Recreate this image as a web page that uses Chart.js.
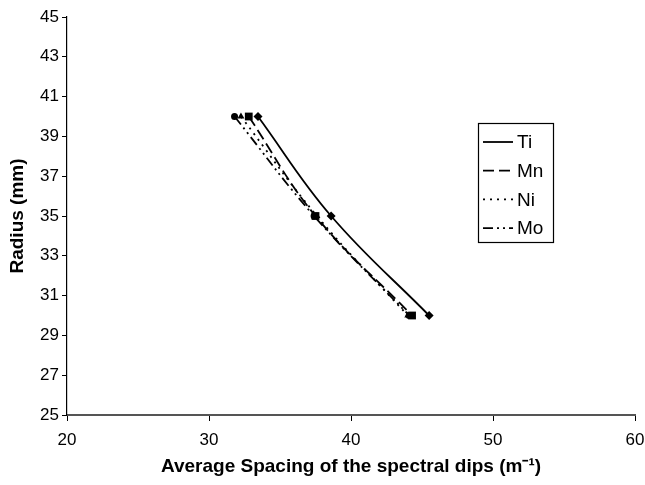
<!DOCTYPE html>
<html><head><meta charset="utf-8">
<script src="https://cdn.jsdelivr.net/npm/chart.js@4.4.0/dist/chart.umd.min.js"></script>
<style>html,body{margin:0;padding:0;background:#fff;}canvas{display:block;}</style>
</head><body>
<canvas id="c" width="645" height="485"></canvas>
<script>
const radius = [40, 35, 30];
const tiSpacing = [33.45, 38.6, 45.5];
const mnSpacing = [32.8, 37.5, 44.3];
const niSpacing = [32.25, 37.6, 44.0];
const moSpacing = [31.8, 37.4, 44.1];
const seriesNames = ['Ti', 'Mn', 'Ni', 'Mo'];
const xTitle = 'Average Spacing of the spectral dips (m\u207B\u00B9)';
const yTitle = 'Radius (mm)';
const FONT = '"Liberation Sans", Arial, sans-serif';

function pts(xs){ return xs.map((x,i)=>({x:x, y:radius[i]})); }
const styles = [
  {dash:[], marker:'rectRot', r:4.5},
  {dash:[11,5], marker:'rect', r:5.5},
  {dash:[2,5], marker:'triangle', r:4},
  {dash:[10,4,2,4,2,4], marker:'circle', r:3.5}
];
const allX = [tiSpacing, mnSpacing, niSpacing, moSpacing];
const datasets = allX.map((xs,i)=>({
  label: seriesNames[i], data: pts(xs),
  borderColor:'#000', backgroundColor:'#000', borderWidth:1.8,
  borderDash: styles[i].dash, pointStyle: styles[i].marker,
  pointRadius: styles[i].r, pointBorderWidth:0, tension:0.4, showLine:true
}));

const legendPlugin = {
  id:'boxLegend',
  afterDraw(chart){
    const ctx = chart.ctx;
    const x0=478, y0=123, w=75, h=119;
    ctx.save();
    ctx.strokeStyle='#000'; ctx.lineWidth=1.2;
    ctx.strokeRect(x0+0.5,y0+0.5,w,h);
    ctx.font='19px ' + FONT;
    ctx.textBaseline='middle'; ctx.fillStyle='#000';
    chart.data.datasets.forEach((ds,i)=>{
      const yy = y0+19+i*28.7;
      ctx.beginPath(); ctx.setLineDash(ds.borderDash); ctx.lineWidth=1.8;
      ctx.moveTo(x0+5,yy); ctx.lineTo(x0+35,yy); ctx.stroke();
      ctx.setLineDash([]);
      ctx.fillText(ds.label, x0+39, yy+1);
    });
    ctx.restore();
  }
};

new Chart(document.getElementById('c'), {
  type:'scatter',
  data:{datasets},
  options:{
    responsive:false, animation:false,
    layout:{padding:{top:17,right:10,bottom:0,left:0}},
    plugins:{legend:{display:false}, tooltip:{enabled:false}},
    scales:{
      x:{type:'linear', min:20, max:60,
        ticks:{stepSize:10, color:'#000', font:{family:FONT, size:17}, padding:9},
        grid:{drawOnChartArea:false, drawTicks:true, tickLength:6, color:'#000'},
        border:{color:'#555', width:2},
        title:{display:true, text:xTitle, color:'#000', font:{family:FONT, size:19, weight:'bold'}, padding:{top:2, bottom:7}},
        afterFit(s){ s.height = 70; s.paddingLeft = 0; s.paddingRight = 0; }
      },
      y:{type:'linear', min:25, max:45,
        ticks:{stepSize:2, color:'#000', font:{family:FONT, size:17}, padding:3},
        grid:{drawOnChartArea:false, drawTicks:true, tickLength:5, color:'#000'},
        border:{color:'#000', width:1.2},
        title:{display:true, text:yTitle, color:'#000', font:{family:FONT, size:19, weight:'bold'}, padding:{top:6, bottom:2}},
        afterFit(s){ s.width = 67; s.paddingTop = 0; s.paddingBottom = 0; }
      }
    }
  },
  plugins:[legendPlugin]
});
</script>
</body></html>
